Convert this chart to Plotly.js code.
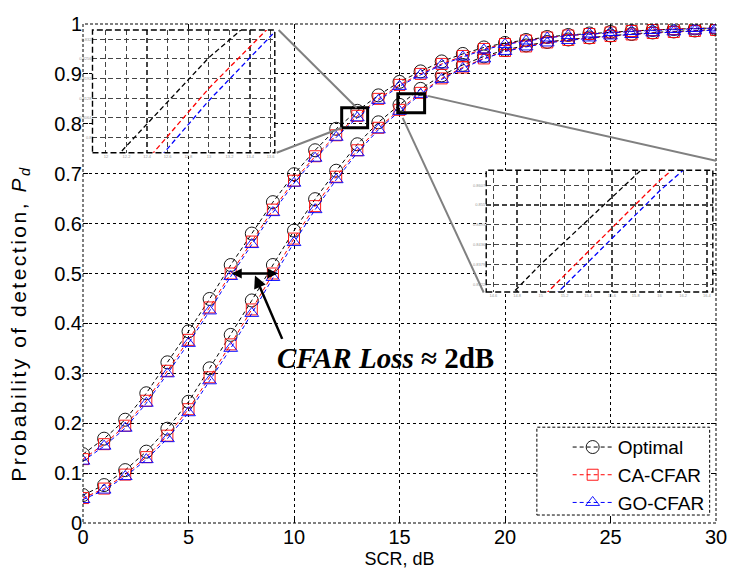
<!DOCTYPE html>
<html><head><meta charset="utf-8">
<script src="https://cdn.plot.ly/plotly-3.0.1.min.js"></script>
<style>html,body{margin:0;padding:0;background:#fff}#chart{width:729px;height:571px}</style>
</head><body><div id="chart"></div>
<script>
// SCR axis (dB)
const scr = [0,1,2,3,4,5,6,7,8,9,10,11,12,13,14,15,16,17,18,19,20,21,22,23,24,25,26,27,28,29,30];
// upper family of curves
const optimalA = [0.138,0.169,0.207,0.26,0.322,0.384,0.449,0.517,0.58,0.643,0.699,0.747,0.79,0.826,0.857,0.884,0.905,0.925,0.94,0.953,0.962,0.968,0.974,0.978,0.981,0.984,0.986,0.988,0.99,0.991,0.992];
const caA      = [0.128,0.158,0.195,0.245,0.305,0.367,0.432,0.5,0.564,0.628,0.686,0.735,0.777,0.816,0.85,0.878,0.9,0.92,0.936,0.95,0.96,0.967,0.973,0.977,0.98,0.983,0.986,0.988,0.99,0.991,0.992];
const goA      = [0.124,0.154,0.19,0.24,0.299,0.36,0.425,0.494,0.558,0.622,0.681,0.731,0.773,0.812,0.847,0.875,0.898,0.918,0.934,0.948,0.959,0.966,0.972,0.977,0.98,0.983,0.985,0.987,0.989,0.991,0.992];
// lower family of curves
const optimalB = [0.056,0.076,0.106,0.143,0.189,0.243,0.31,0.377,0.446,0.517,0.586,0.649,0.706,0.759,0.803,0.838,0.87,0.897,0.918,0.935,0.948,0.957,0.964,0.969,0.973,0.977,0.98,0.983,0.985,0.987,0.989];
const caB      = [0.05,0.069,0.097,0.132,0.175,0.228,0.292,0.358,0.428,0.5,0.57,0.635,0.694,0.747,0.792,0.828,0.862,0.891,0.913,0.931,0.946,0.955,0.963,0.968,0.972,0.976,0.979,0.982,0.984,0.986,0.988];
const goB      = [0.047,0.066,0.093,0.127,0.169,0.221,0.285,0.35,0.42,0.492,0.562,0.628,0.688,0.742,0.788,0.825,0.859,0.889,0.911,0.93,0.945,0.954,0.962,0.967,0.972,0.976,0.979,0.982,0.984,0.986,0.988];
const seriesNames = ["Optimal","CA-CFAR","GO-CFAR"];
const xTicks = [0,5,10,15,20,25,30];
const yTicks = [0,0.1,0.2,0.3,0.4,0.5,0.6,0.7,0.8,0.9,1];
const yTickText = ["0","0.1","0.2","0.3","0.4","0.5","0.6","0.7","0.8","0.9","1"];

const styles = [
  {color:"#000000", symbol:"circle-open", size:13},
  {color:"#ff0000", symbol:"square-open", size:11},
  {color:"#0000ff", symbol:"triangle-up-open", size:12}
];
const groups = [[optimalA,optimalB],[caA,caB],[goA,goB]];
const traces = [];
groups.forEach((g,i)=>{
  g.forEach((ys,j)=>{
    traces.push({x:scr,y:ys,type:"scatter",mode:"lines+markers",name:seriesNames[i],
      legendgroup:seriesNames[i],showlegend:j===0,
      line:{color:styles[i].color,width:1,dash:"4px,3px"},
      marker:{symbol:styles[i].symbol,size:styles[i].size,color:styles[i].color,line:{width:0.9,color:styles[i].color}}});
  });
});
// inset copies (lines only)
[["x2","y2",0],["x3","y3",1]].forEach(([xa,ya,k])=>{
  groups.forEach((g,i)=>{
    traces.push({x:scr,y:g[k],type:"scatter",mode:"lines",xaxis:xa,yaxis:ya,showlegend:false,
      line:{color:styles[i].color,width:1.3,dash:"5px,3px"},hoverinfo:"skip"});
  });
});

const font = "Liberation Sans, Arial, sans-serif";
const insetAxis = (dom, rng, dt)=>({domain:dom,range:rng,dtick:dt,showgrid:true,griddash:"5px,3px",gridcolor:"#444",gridwidth:1.2,
  zeroline:false,showline:false,ticks:"",tickfont:{size:4,color:"#999",family:font},fixedrange:true});

const layout = {
  width:729,height:571,
  margin:{l:83,r:13,t:24,b:48},
  paper_bgcolor:"#fff",plot_bgcolor:"#fff",
  font:{family:font,color:"#000"},
  showlegend:true,
  legend:{x:0.99,xanchor:"right",y:0.19,yanchor:"top",bgcolor:"rgba(0,0,0,0)",borderwidth:0,
    font:{size:19,family:font},tracegroupgap:0,itemwidth:40},
  xaxis:{range:[0,30],tickvals:xTicks,ticks:"inside",ticklen:5,tickcolor:"#000",mirror:"ticks",
    showgrid:true,griddash:"3px,3px",gridcolor:"#000",gridwidth:1,zeroline:false,showline:false,
    tickfont:{size:20,family:font},
    title:{text:"SCR, dB",font:{size:18,family:font},standoff:5}},
  yaxis:{range:[0,1],tickvals:yTicks,ticktext:yTickText,ticks:"inside",ticklen:5,tickcolor:"#000",mirror:"ticks",
    showgrid:true,griddash:"3px,3px",gridcolor:"#000",gridwidth:1,zeroline:false,showline:false,
    tickfont:{size:20,family:font}},
  xaxis2:Object.assign(insetAxis([0.015,0.303],[11.87,13.64],0.2),{anchor:"y2"}),
  yaxis2:Object.assign(insetAxis([0.742,0.988],[0.795,0.835],0.0064),{anchor:"x2"}),
  xaxis3:Object.assign(insetAxis([0.637,0.995],[14.54,16.45],0.2),{anchor:"y3"}),
  yaxis3:Object.assign(insetAxis([0.463,0.707],[0.83,0.865],0.0057),{anchor:"x3"}),
  shapes:[
    {type:"rect",xref:"paper",yref:"paper",x0:0,x1:1,y0:0,y1:1,line:{color:"#000",width:1,dash:"3px,2px"}},
    {type:"rect",xref:"paper",yref:"paper",x0:0.015,x1:0.303,y0:0.742,y1:0.988,line:{color:"#000",width:1.4,dash:"6px,3px"}},
    {type:"rect",xref:"paper",yref:"paper",x0:0.637,x1:0.995,y0:0.463,y1:0.707,line:{color:"#000",width:1.4,dash:"6px,3px"}},
    {type:"rect",xref:"x",yref:"y",x0:12.26,x1:13.49,y0:0.792,y1:0.832,line:{color:"#000",width:3}},
    {type:"rect",xref:"x",yref:"y",x0:14.92,x1:16.19,y0:0.822,y1:0.86,line:{color:"#000",width:3}},
    {type:"line",xref:"x",yref:"y",x0:9.27,y0:0.988,x1:12.97,y1:0.832,line:{color:"#808080",width:2}},
    {type:"line",xref:"x",yref:"y",x0:9.18,y0:0.742,x1:12.26,y1:0.792,line:{color:"#808080",width:2}},
    {type:"line",xref:"x",yref:"y",x0:16.33,y0:0.856,x1:30,y1:0.726,line:{color:"#808080",width:2}},
    {type:"line",xref:"x",yref:"y",x0:15.15,y0:0.812,x1:18.99,y1:0.462,line:{color:"#808080",width:2}},
    {type:"rect",xref:"paper",yref:"paper",x0:0.717,x1:0.99,y0:0.016,y1:0.192,fillcolor:"#fff",line:{color:"#000",width:1,dash:"3px,2px"}}
  ],
  annotations:[
    {x:7.05,y:0.5,ax:9.22,ay:0.5,xref:"x",yref:"y",axref:"x",ayref:"y",text:"",showarrow:true,arrowhead:2,arrowsize:1,arrowwidth:2,arrowcolor:"#000"},
    {x:9.22,y:0.5,ax:7.05,ay:0.5,xref:"x",yref:"y",axref:"x",ayref:"y",text:"",showarrow:true,arrowhead:2,arrowsize:1,arrowwidth:2,arrowcolor:"#000"},
    {x:8.15,y:0.496,ax:9.47,ay:0.366,xref:"x",yref:"y",axref:"x",ayref:"y",text:"",showarrow:true,arrowhead:2,arrowsize:1,arrowwidth:2.5,arrowcolor:"#000"},
    {x:14.35,y:0.33,xref:"x",yref:"y",text:"<b><i>CFAR Loss</i> ≈ 2dB</b>",showarrow:false,
      font:{family:"Liberation Serif, Times New Roman, serif",size:29,color:"#000"}},
    // y-axis title
    {x:-0.099,y:0.4,xref:"paper",yref:"paper",xanchor:"center",yanchor:"middle",textangle:-90,showarrow:false,
      text:"Probability of detection, <i>P<sub>d</sub></i>",font:{size:21,family:font,color:"#000"}}
  ]
};
Plotly.newPlot("chart",traces,layout,{displayModeBar:false,staticPlot:true}).then(()=>{
  const t = document.querySelector('.annotation[data-index="4"] text');
  if (t) t.style.letterSpacing = "2.5px";
});
</script></body></html>
